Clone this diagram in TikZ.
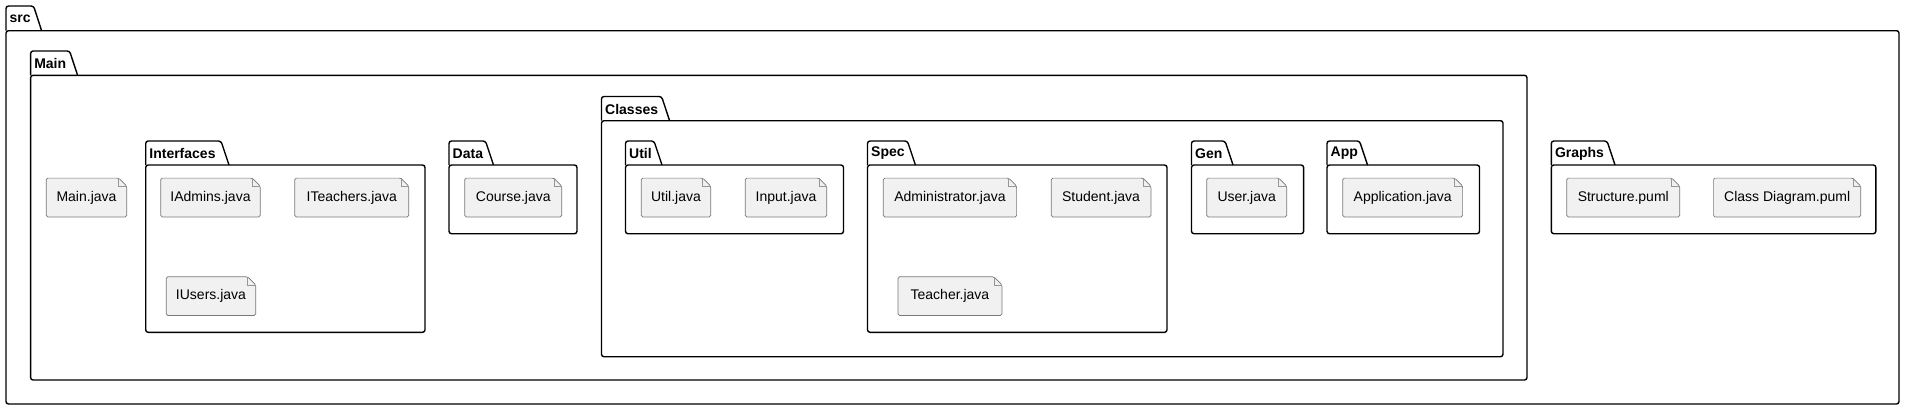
\documentclass[tikz,border=0pt]{standalone}
\usepackage{fontspec}
\setmainfont{Liberation Sans}
\begin{document}
\begin{tikzpicture}[x=1pt,y=-1pt,
  pkgline/.style={draw=black,line width=1.4pt,rounded corners=2.5pt},
  pkglabel/.style={anchor=west,inner sep=0pt,font=\fontsize{14}{16}\selectfont\bfseries},
  filebox/.style={draw=none,inner sep=0pt,font=\fontsize{14}{16}\selectfont},
  fileedge/.style={draw={rgb,255:red,120;green,120;blue,120},line width=0.7pt,fill={rgb,255:red,241;green,241;blue,241},rounded corners=1.5pt},
  foldedge/.style={draw={rgb,255:red,150;green,150;blue,150},line width=0.5pt}
]
\fill[white] (0,0) rectangle (1906,410);
\useasboundingbox (0,0) rectangle (1906,410);

% package: name, label, x1, ytop, ybody, x2, y2, tab bottom-right
\newcommand{\mypkg}[8]{%
  \draw[pkgline] (#3,#5) rectangle (#7,#8);
  \draw[pkgline] (#3,#5) -- (#3,#4) -- (#6-8,#4) -- (#6,#5);
  \node[pkglabel] (#1) at (#3+3.5,{(#4+#5)/2+0.5}) {#2};
}
% file: name, x1, y1, x2, y2, text
\newcommand{\myfile}[6]{%
  \node[filebox,minimum width={(#4-#2)*1pt},minimum height={(#5-#3)*1pt}] (#1) at ({(#2+#4)/2},{(#3+#5)/2}) {};
  \draw[fileedge] (#1.south west) -- (#1.north west) -- ([xshift=-8pt]#1.north east) -- ([yshift=-8pt]#1.north east) -- (#1.south east) -- cycle;
  \draw[foldedge] ([xshift=-8pt]#1.north east) -- ([xshift=-8pt,yshift=-8pt]#1.north east) -- ([yshift=-8pt]#1.north east);
  \node[filebox] at (#1.center) {#6};
}

% packages (x-values, y measured downward; note args order below)
% \mypkg{name}{label}{x1}{ytop}{ybody}{tabBR}{x2}{y2}
\mypkg{src}{src}{6}{6}{30.7}{41.6}{1899}{404}
\mypkg{main}{Main}{30.6}{51}{75.3}{77.6}{1527}{380}
\mypkg{interfaces}{Interfaces}{145.7}{141}{165}{229}{425}{332.3}
\mypkg{data}{Data}{449}{141}{165}{493.5}{577}{233.7}
\mypkg{classes}{Classes}{601.5}{96.5}{120.7}{669.6}{1503}{356.7}
\mypkg{util}{Util}{625.5}{141}{165}{662}{843.5}{233.7}
\mypkg{spec}{Spec}{867.5}{141}{165}{915.4}{1167}{332.3}
\mypkg{gen}{Gen}{1191.5}{141}{165}{1233}{1303.6}{233.7}
\mypkg{app}{App}{1327}{141}{165}{1367.5}{1479.5}{233.7}
\mypkg{graphs}{Graphs}{1551.3}{141}{165}{1615}{1875.8}{233.7}

% files
\myfile{fMain}{46.5}{178.3}{126.5}{216.7}{Main.java}
\myfile{fIAdmins}{161}{178.3}{260}{216.7}{IAdmins.java}
\myfile{fITeachers}{295}{178.3}{408.6}{216.7}{ITeachers.java}
\myfile{fIUsers}{166.5}{277}{255.5}{315.3}{IUsers.java}
\myfile{fCourse}{465}{178.3}{561.6}{216.7}{Course.java}
\myfile{fUtil}{641.4}{178.3}{710.5}{216.7}{Util.java}
\myfile{fInput}{745.4}{178.3}{826.6}{216.7}{Input.java}
\myfile{fAdmin}{883.5}{178.3}{1016.4}{216.7}{Administrator.java}
\myfile{fStudent}{1051.4}{178.3}{1150.7}{216.7}{Student.java}
\myfile{fTeacher}{898.2}{277}{1001.7}{315.3}{Teacher.java}
\myfile{fUser}{1206.9}{178.3}{1286.5}{216.7}{User.java}
\myfile{fApp}{1343}{178.3}{1462.4}{216.7}{Application.java}
\myfile{fStructure}{1567}{178.3}{1679.5}{216.7}{Structure.puml}
\myfile{fClassDiag}{1713.8}{178.3}{1860.6}{216.7}{Class Diagram.puml}
\end{tikzpicture}
\end{document}
